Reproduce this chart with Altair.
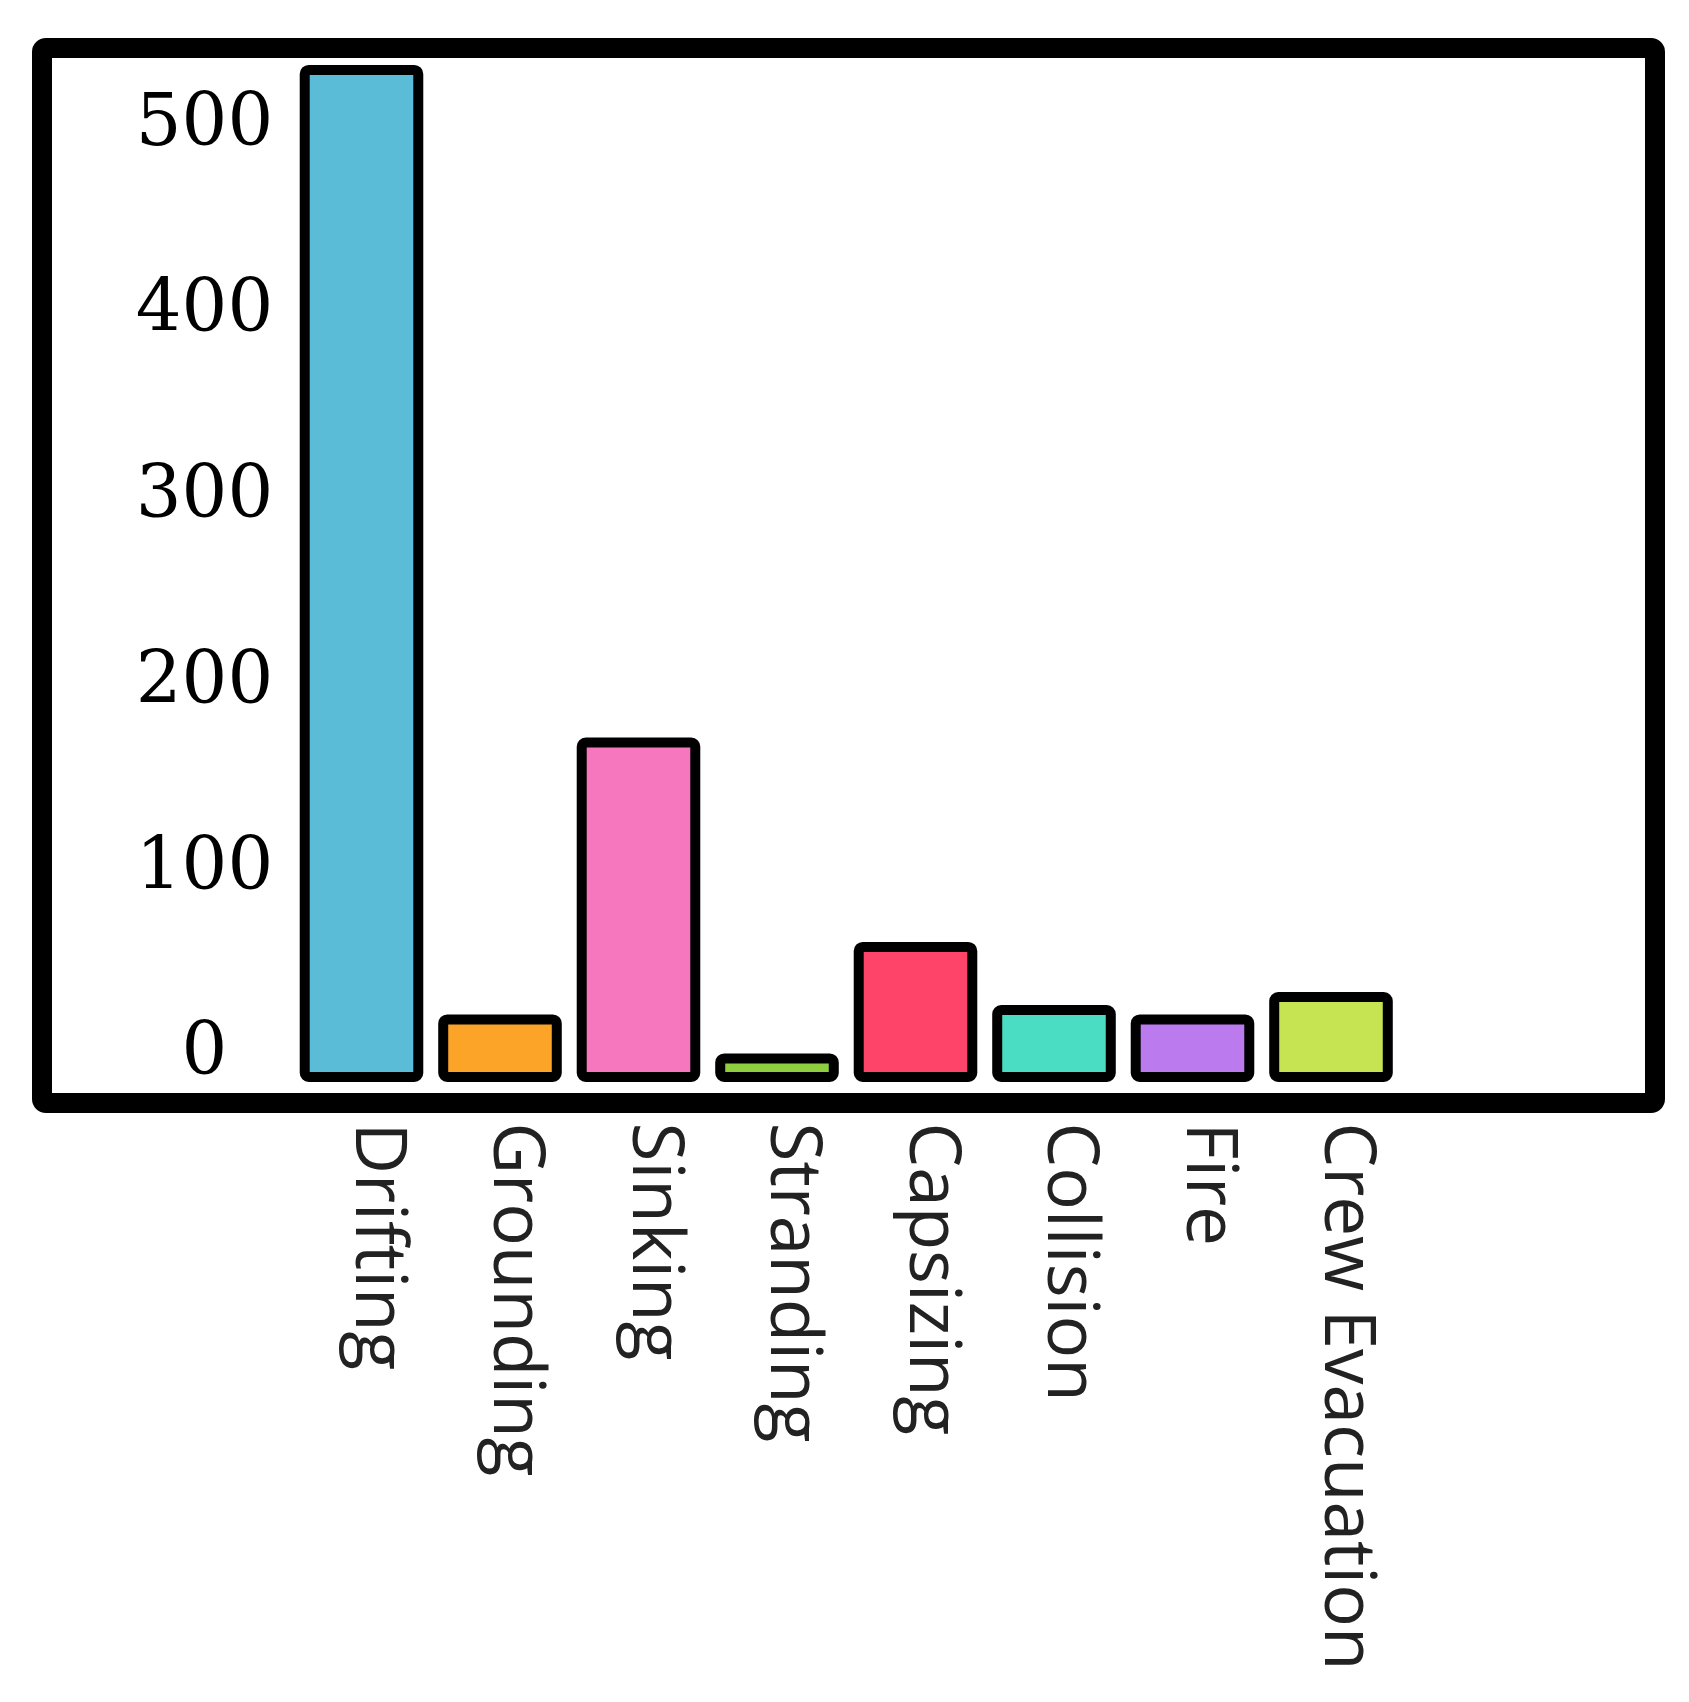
import altair as alt
import pandas as pd

categories = ["Drifting", "Grounding", "Sinking", "Stranding", "Capsizing",
              "Collision", "Fire", "Crew Evacuation"]
values = [542, 31, 180, 10, 70, 36, 31, 43]
colors = ["#5bbcd8", "#fba428", "#f777bf", "#8fce3f", "#fe4468",
          "#4bdcc4", "#bb7bef", "#c6e351"]
y_ticks = [0, 100, 200, 300, 400, 500]

df = pd.DataFrame({"cat": categories, "val": values})

chart = alt.Chart(df).mark_bar(
    stroke="black", strokeWidth=10, cornerRadius=4, strokeJoin="round"
).encode(
    x=alt.X(
        "cat:N", sort=categories,
        scale=alt.Scale(range=[250.25, 1358.25], paddingInner=0.18, paddingOuter=0.09),
        axis=alt.Axis(title=None, labelAngle=90, labelAlign="left", labelBaseline="middle",
                      labelFontSize=71, labelFont="Open Sans", labelColor="#222222",
                      ticks=False, domain=False, labelPadding=19, labelOffset=15,
                      labelLimit=0, labelOverlap=False),
    ),
    y=alt.Y(
        "val:Q",
        scale=alt.Scale(domain=[-14, 553.8], nice=False, zero=False),
        axis=alt.Axis(values=y_ticks, title=None, grid=False, ticks=False, domain=False,
                      labelAlign="center", labelBaseline="middle", labelFont="DejaVu Serif",
                      labelFontSize=72, labelColor="black", offset=-162, labelPadding=0,
                      labelOffset=-25),
    ),
    y2=alt.datum(0),
    color=alt.Color("cat:N", scale=alt.Scale(domain=categories, range=colors), legend=None),
).properties(
    width=1613, height=1055,
    autosize=alt.AutoSizeParams(type="none"),
    padding={"left": 34, "top": 40, "right": 26, "bottom": 591},
    background="white",
).configure_view(
    stroke="black", strokeWidth=20, fill="white", cornerRadius=4
)

chart.save("out.html", embed_options={"renderer": "svg", "actions": False})
